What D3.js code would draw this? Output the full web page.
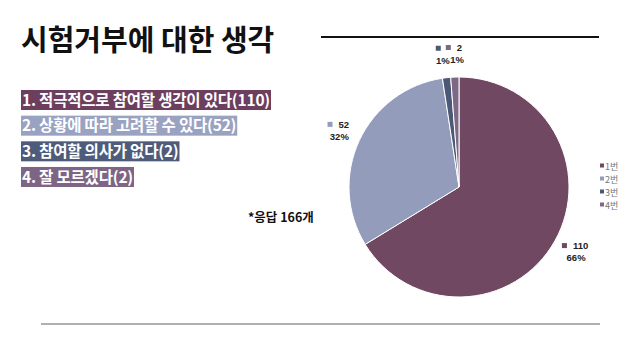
<!DOCTYPE html>
<html>
<head>
<meta charset="utf-8">
<script src="https://cdn.jsdelivr.net/npm/d3@7"></script>
<style>
html,body{margin:0;padding:0;background:#fff;}
svg{display:block;}
</style>
</head>
<body>
<svg id="chart" width="640" height="359"></svg>
<script>
const title = "시험거부에 대한 생각";
const categories = ["1번", "2번", "3번", "4번"];
const answers = ["1. 적극적으로 참여할 생각이 있다(110)", "2. 상황에 따라 고려할 수 있다(52)", "3. 참여할 의사가 없다(2)", "4. 잘 모르겠다(2)"];
const values = [110, 52, 2, 2];
const percents = ["66%", "32%", "1%", "1%"];
const colors = ["#714862", "#939cba", "#4b5876", "#7f6886"];
const boxColors = ["#6c3f5e", "#9aa2c2", "#4e5b7b", "#7e6585"];
const note = "*응답 166개";

const svg = d3.select("#chart");
const KR = "'Noto Sans CJK KR','Noto Sans',sans-serif";

// Title
svg.append("text").attr("x", 21).attr("y", 51)
  .attr("font-family", KR).attr("font-weight", 700).attr("font-size", 29)
  .attr("fill", "#111").text(title);

// top rule & bottom rule
svg.append("line").attr("x1", 321).attr("x2", 599).attr("y1", 37).attr("y2", 37)
  .attr("stroke", "#111").attr("stroke-width", 2);
svg.append("line").attr("x1", 41).attr("x2", 600).attr("y1", 324).attr("y2", 324)
  .attr("stroke", "#b0b0b0").attr("stroke-width", 2);

// Left answer boxes
const ly = d3.scaleBand().domain(d3.range(answers.length)).range([90, 187]).paddingInner(0.22);
const lg = svg.append("g");
answers.forEach((a, i) => {
  const g = lg.append("g");
  const r = g.append("rect").attr("x", 21).attr("y", ly(i)).attr("height", ly.bandwidth()).attr("fill", boxColors[i]);
  const t = g.append("text").attr("x", 22).attr("y", ly(i) + ly.bandwidth() / 2 + 5.8)
    .attr("font-family", KR).attr("font-weight", 700).attr("font-size", 15.5)
    .attr("letter-spacing", -0.2).attr("fill", "#fff").text(a);
  const w = t.node().getComputedTextLength();
  r.attr("width", w + 2);
});

// Note
svg.append("text").attr("x", 248).attr("y", 222)
  .attr("font-family", KR).attr("font-weight", 700).attr("font-size", 12.5)
  .attr("fill", "#111").text(note);

// Pie
const cx = 459, cy = 187, R = 110;
const pie = d3.pie().sort(null).value(d => d)(values);
const arc = d3.arc().innerRadius(0).outerRadius(R);
const labelArc = d3.arc().innerRadius(R * 1.21).outerRadius(R * 1.21);
const pg = svg.append("g").attr("transform", `translate(${cx},${cy})`);
pg.selectAll("path").data(pie).join("path")
  .attr("d", arc).attr("fill", (d, i) => colors[i])
  .attr("stroke", "#fff").attr("stroke-width", 1);

// Data labels
const LF = "'Liberation Sans',Arial,sans-serif";
const pctNodes = [];
pie.forEach((d, i) => {
  const [x, y] = labelArc.centroid(d);
  const g = pg.append("g").attr("transform", `translate(${x},${y})`);
  const bg = g.append("rect").attr("fill", "#fff");
  const v = g.append("text").attr("y", -3).attr("text-anchor", "start")
    .attr("font-family", LF).attr("font-weight", 700).attr("font-size", 9.5)
    .attr("fill", "#222").text(values[i]);
  const vw = v.node().getComputedTextLength();
  const total = 5 + 6 + vw;
  const x0 = -total / 2;
  g.append("rect").attr("x", x0).attr("y", -9).attr("width", 5).attr("height", 5).attr("fill", colors[i]);
  v.attr("x", x0 + 11);
  bg.attr("x", x0 - 1).attr("y", -12).attr("width", total + 2).attr("height", 11);
  const p = pg.append("text").attr("y", y + 9).attr("text-anchor", "middle")
    .attr("font-family", LF).attr("font-weight", 700).attr("font-size", 9.5)
    .attr("fill", "#222").text(percents[i]);
  pctNodes.push({node: p, x: x + 1, y: y + 9, w: p.node().getComputedTextLength()});
});
// simple collision resolution for percent labels (push apart horizontally)
for (let it = 0; it < 20; it++) {
  for (let a = 0; a < pctNodes.length; a++) for (let b = a + 1; b < pctNodes.length; b++) {
    const A = pctNodes[a], B = pctNodes[b];
    if (Math.abs(A.y - B.y) < 10) {
      const need = (A.w + B.w) / 2 + 0.5;
      const dx = B.x - A.x;
      if (Math.abs(dx) < need) {
        const push = (need - Math.abs(dx)) / 2;
        const s = dx >= 0 ? 1 : -1;
        A.x -= s * push; B.x += s * push;
      }
    }
  }
}
pctNodes.forEach(p => p.node.attr("x", p.x));

// Right legend
const ry = d3.scalePoint().domain(categories).range([166, 205]);
const rg = svg.append("g");
categories.forEach((c, i) => {
  rg.append("rect").attr("x", 600).attr("y", ry(c) - 2.5).attr("width", 4).attr("height", 4).attr("fill", colors[i]);
  rg.append("text").attr("x", 605).attr("y", ry(c) + 3.5)
    .attr("font-family", "'Noto Sans CJK KR',serif").attr("font-size", 9)
    .attr("fill", "#777").text(c);
});
</script>
</body>
</html>
